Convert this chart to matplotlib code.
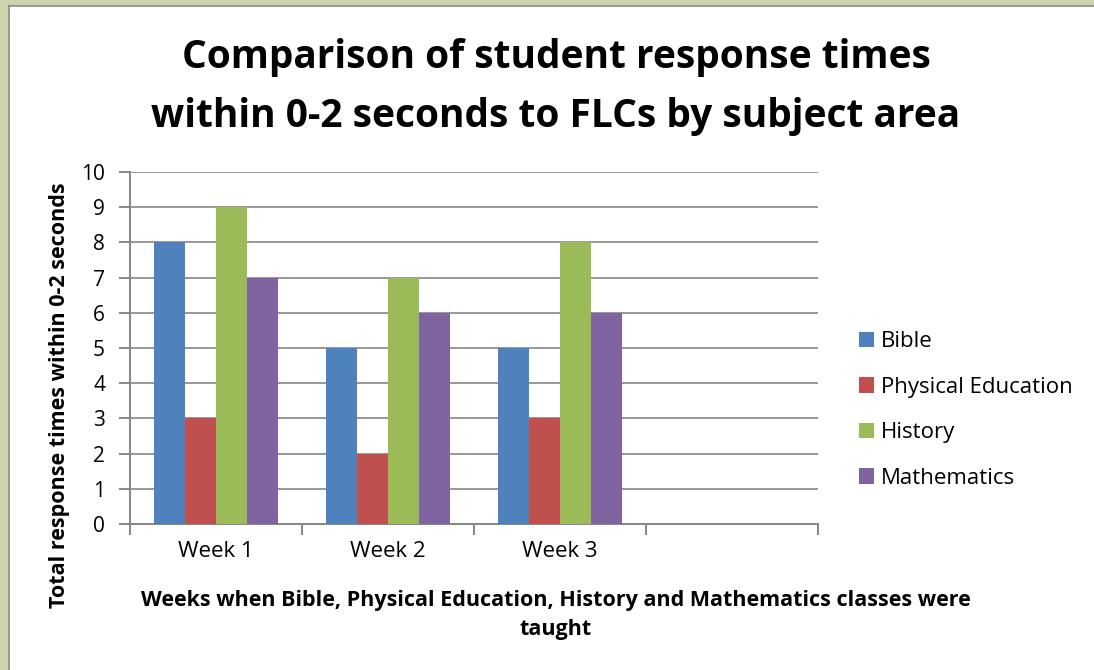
import matplotlib
matplotlib.use("Agg")
import matplotlib.pyplot as plt
from matplotlib.patches import Rectangle
from matplotlib.lines import Line2D
import numpy as np

categories = ["Week 1", "Week 2", "Week 3", ""]
series_names = ["Bible", "Physical Education", "History", "Mathematics"]
bible = [8, 5, 5, np.nan]
phys_ed = [3, 2, 3, np.nan]
history = [9, 7, 8, np.nan]
maths = [7, 6, 6, np.nan]
colors = ["#4F81BD", "#C0504D", "#9BBB59", "#8064A2"]

W, H = 1094, 670
plt.rcParams['font.family'] = ['Open Sans', 'DejaVu Sans']
fig = plt.figure(figsize=(W / 100, H / 100), dpi=100)
fig.patch.set_facecolor("white")

# Olive frame on left/top
olive = "#CDD5AE"
fig.patches.append(Rectangle((0, 0), 8 / W, 1, transform=fig.transFigure, color=olive, zorder=0))
fig.patches.append(Rectangle((0, 1 - 5 / H), 1, 5 / H, transform=fig.transFigure, color=olive, zorder=0))
fig.lines.append(Line2D([8.5 / W, 8.5 / W], [0, 1 - 5.5 / H], transform=fig.transFigure, color="#8C8C8C", lw=1.2))
fig.lines.append(Line2D([8.5 / W, 1], [1 - 5.5 / H, 1 - 5.5 / H], transform=fig.transFigure, color="#8C8C8C", lw=1.2))

ax = fig.add_axes([130 / W, (H - 524) / H, 688 / W, (524 - 172) / H])
x = np.arange(len(categories))
bw = 0.18
all_series = [bible, phys_ed, history, maths]
for i, (vals, name, c) in enumerate(zip(all_series, series_names, colors)):
    ax.bar(x + (i - 1.5) * bw, vals, width=bw, color=c, label=name, zorder=3, linewidth=0)

ax.set_xlim(-0.5, len(categories) - 0.5)
ax.set_ylim(0, 10)
ax.set_yticks(np.arange(0, 11, 1))
ax.yaxis.grid(True, color="#868686", lw=1.2, zorder=0)
ax.set_axisbelow(True)
for s in ["top", "right"]:
    ax.spines[s].set_visible(False)
for s in ["left", "bottom"]:
    ax.spines[s].set_color("#868686")
    ax.spines[s].set_linewidth(1.4)
ax.set_xticks(x)
ax.set_xticklabels(categories)
ax.set_xticks(np.arange(-0.5, len(categories), 1), minor=True)
ax.tick_params(axis="x", which="major", length=0, labelsize=16, pad=12)
ax.tick_params(axis="x", which="minor", length=8, width=1.4, color="#868686", direction="out")
ax.tick_params(axis="y", length=8, width=1.4, color="#868686", labelsize=15, pad=10)

fig.text(556 / W, 1 - 87 / H, "Comparison of student response times\nwithin 0-2 seconds to FLCs by subject area",
         ha="center", va="center", fontsize=28, fontweight="bold", linespacing=1.68)
fig.text(60 / W, 1 - 395 / H, "Total response times within 0-2 seconds", rotation=90,
         ha="center", va="center", fontsize=15.5, fontweight="bold")
fig.text(556 / W, 1 - 615 / H, "Weeks when Bible, Physical Education, History and Mathematics classes were\ntaught",
         ha="center", va="center", fontsize=15.5, fontweight="bold", linespacing=1.45)

handles, labels = ax.get_legend_handles_labels()
leg = fig.legend(handles, labels, loc="center left", bbox_to_anchor=(839 / W, 1 - 410 / H),
                 frameon=False, fontsize=16, handlelength=0.68, handleheight=0.68,
                 handletextpad=0.3, labelspacing=1.1)

fig.savefig("out.png", dpi=100)
